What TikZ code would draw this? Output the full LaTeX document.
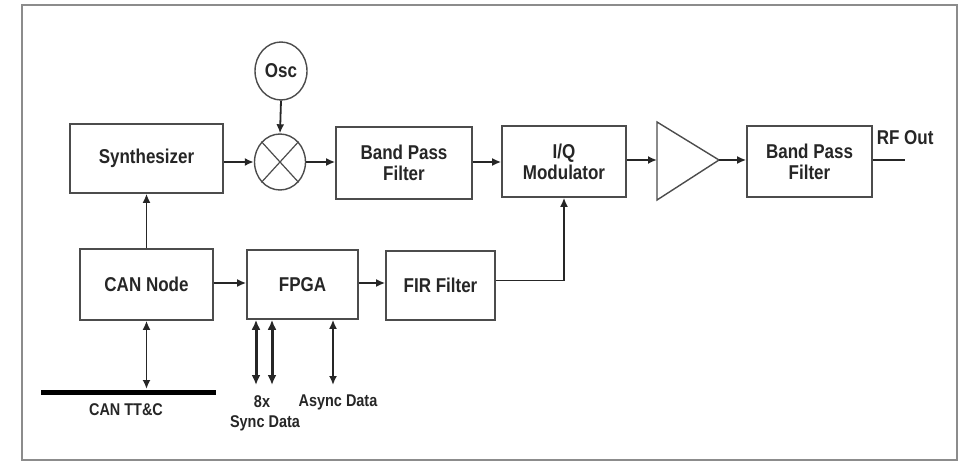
\documentclass[tikz,border=0pt]{standalone}
\usepackage{fontspec}
\setmainfont{Liberation Sans}[FakeStretch=0.85]
\usetikzlibrary{arrows.meta,calc,shapes.geometric}
\begin{document}
\begin{tikzpicture}[x=1pt,y=-1pt,
  blk/.style={draw=black!70,line width=1.6pt,fill=white,align=center,inner sep=0pt,
    font=\fontsize{20}{21}\selectfont\bfseries,text=black!85},
  lbl/.style={font=\fontsize{17}{19}\selectfont\bfseries,text=black!85,inner sep=0pt},
  conn/.style={line width=1.8pt,draw=black!85,-{Latex[length=9pt,width=8pt]}},
  bidir/.style={line width=1.8pt,draw=black!85,{Latex[length=9pt,width=8pt]}-{Latex[length=9pt,width=8pt]}},
  bidirthick/.style={line width=3pt,draw=black!85,{Latex[length=10pt,width=9pt]}-{Latex[length=10pt,width=9pt]}},
  ring/.style={ellipse,draw=black!70,line width=1.4pt,fill=white,inner sep=0pt,
    font=\fontsize{20}{21}\selectfont\bfseries,text=black!85}]
\useasboundingbox (0,0) rectangle (968,462);
\draw[black!45,line width=1.8pt] (22,5) rectangle (957,460);

\node[blk,minimum width=153pt,minimum height=69pt] (synth) at (146.5,158.5) {Synthesizer};
\node[blk,minimum width=136pt,minimum height=72pt] (bpf1) at (404,163) {Band Pass\\Filter};
\node[blk,minimum width=124pt,minimum height=71pt] (iq) at (564,161.5) {I/Q\\Modulator};
\node[blk,minimum width=125pt,minimum height=71pt] (bpf2) at (809.5,161.5) {Band Pass\\Filter};
\node[blk,minimum width=133pt,minimum height=71pt] (can) at (146.5,284.5) {CAN Node};
\node[blk,minimum width=111pt,minimum height=69pt] (fpga) at (302.5,284.5) {FPGA};
\node[blk,minimum width=109pt,minimum height=69pt] (fir) at (440.5,285.5) {FIR Filter};

\node[ring,minimum width=52pt,minimum height=58pt] (osc) at (281,71) {Osc};
\node[ring,minimum width=51pt,minimum height=56pt] (mix) at (280,162) {};
\draw[black!70,line width=1.2pt] (mix.north east) -- (mix.south west) (mix.north west) -- (mix.south east);

% amplifier
\coordinate (ampin) at (657,160);
\coordinate (ampout) at (719,160);
\draw[black!70,line width=1.4pt,fill=white] (657,122) -- (ampout) -- (657,200) -- cycle;

% RF out
\coordinate (rfend) at (905,160);
\node[blk,draw=none,fill=none,anchor=west] (rf) at (876,138) {RF Out};

% bus
\coordinate (busL) at (41,392);
\coordinate (busR) at (216,392);
\draw[black,line width=5pt] (busL) -- (busR);
\node[lbl] (tt) at (126,410) {CAN TT\&C};

% FPGA data lines
\coordinate (s1) at (256,385);
\coordinate (s2) at (272,385);
\coordinate (as) at (333,385);
\node[lbl] (x8) at (262,402) {8x};
\node[lbl] (sync) at (265,423) {Sync Data};
\node[lbl] (async) at (338,402) {Async Data};

% connectors
\draw[conn] (synth.east |- mix.west) -- (mix.west);
\draw[conn] (osc.south) -- (mix.north);
\draw[conn] (mix.east) -- (bpf1.west |- mix.east);
\draw[conn] (bpf1.east |- 0,162) -- (iq.west |- 0,162);
\draw[conn] (iq.east |- ampin) -- (ampin);
\draw[conn] (ampout) -- (bpf2.west |- ampout);
\draw[line width=1.8pt,black!85] (bpf2.east |- rfend) -- (rfend);
\draw[conn] (can.north) -- (synth.south);
\draw[conn] (can.east |- 0,283) -- (fpga.west |- 0,283);
\draw[conn] (fpga.east |- 0,283) -- (fir.west |- 0,283);
\draw[conn] ($(fir.east)+(0,-5)$) -| (iq.south);
\draw[bidir] (can.south) -- ($(can.south |- busL)+(0,-3)$);
\draw[bidirthick] (fpga.south -| s1) -- (s1);
\draw[bidirthick] (fpga.south -| s2) -- (s2);
\draw[bidir] (fpga.south -| as) -- (as);
\end{tikzpicture}
\end{document}
